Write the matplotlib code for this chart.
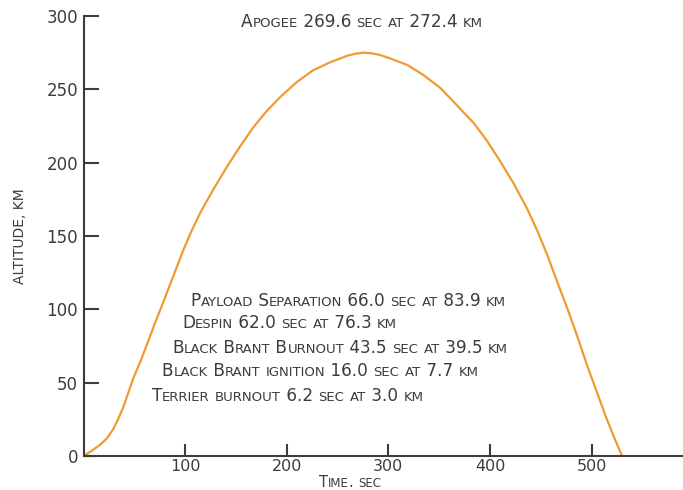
import numpy as np
import matplotlib
matplotlib.use('Agg')
import matplotlib.pyplot as plt
from matplotlib.offsetbox import TextArea, HPacker, AnnotationBbox

# trayectoria (tiempo en s, altitud en km)
t_sec = [0, 8, 16, 23, 29, 34, 39, 44, 49, 56, 63, 70, 78, 88, 98, 106, 115,
         128, 141, 154, 167, 180, 194, 210, 226, 243, 260, 268, 275, 283, 292,
         302, 319, 335, 351, 367, 384, 397, 410, 424, 437, 447, 457, 466, 476,
         486, 496, 505, 514, 522, 530]
alt_km = [0, 3.5, 7.5, 12, 18, 25, 33, 43, 53, 64.5, 77, 90, 104, 122, 140, 153, 166,
          182, 197, 211, 224, 235, 245, 255, 263, 268.5, 273, 274.3, 275, 274.6, 273.4,
          271, 266.5, 259.5, 251, 239.5, 227, 215, 201, 185, 168, 153, 136, 119, 101,
          81.5, 61, 44, 27, 13, 0]

# eventos
apogee_txt = 'Apogee 269.6 sec at 272.4 km'
apogee_pos = (274, 296)
event_txt = ['Payload Separation 66.0 sec at 83.9 km',
             'Despin 62.0 sec at 76.3 km',
             'Black Brant Burnout 43.5 sec at 39.5 km',
             'Black Brant ignition 16.0 sec at 7.7 km',
             'Terrier burnout 6.2 sec at 3.0 km']
event_t = [105, 97, 87, 77, 67]
event_alt = [106, 90.5, 73.5, 58, 41]

xticks = [100, 200, 300, 400, 500]
yticks = [0, 50, 100, 150, 200, 250, 300]

gris = '#3c3c3c'
naranja = '#EF9B33'


# versalitas: mayusculas grandes, minusculas como mayusculas chicas
def versalitas(ax, x, y, s, big=12.2, small=9.5, ha=0.0, coords='data'):
    runs = []
    for ch in s:
        low = ch.islower()
        if runs and runs[-1][1] == low:
            runs[-1][0] += ch
        else:
            runs.append([ch, low])
    hijos = [TextArea(r.upper(), textprops=dict(size=small if low else big,
                                                 color=gris, family='DejaVu Sans'))
             for r, low in runs]
    caja = HPacker(children=hijos, align='baseline', pad=0, sep=0)
    ab = AnnotationBbox(caja, (x, y), xycoords=coords, box_alignment=(ha, 0.5),
                        frameon=False, pad=0, annotation_clip=False)
    ax.add_artist(ab)


fig = plt.figure(figsize=(6.83, 4.9), dpi=100)
ax = fig.add_axes([0.1223, 0.0694, 0.8777, 0.898])

ax.plot(t_sec, alt_km, color=naranja, linewidth=1.6, solid_capstyle='round')

ax.set_xlim(0, 590)
ax.set_ylim(0, 300)
ax.set_xticks(xticks)
ax.set_yticks(yticks)
ax.spines['top'].set_visible(False)
ax.spines['right'].set_visible(False)
for s in ['left', 'bottom']:
    ax.spines[s].set_color(gris)
    ax.spines[s].set_linewidth(1.5)
ax.tick_params(axis='y', direction='in', length=11, width=1.5, color=gris,
               labelsize=12, labelcolor=gris, pad=4)
ax.tick_params(axis='x', direction='in', length=8.5, width=1.5, color=gris,
               labelsize=11.5, labelcolor=gris, pad=2)

ax.set_ylabel('ALTITUDE, KM', fontsize=10, color=gris, labelpad=14)
versalitas(ax, 0.445, -0.061, 'Time. sec', big=10.5, small=8.5, ha=0.5,
           coords='axes fraction')

versalitas(ax, apogee_pos[0], apogee_pos[1], apogee_txt, ha=0.5)
for txt, x, y in zip(event_txt, event_t, event_alt):
    versalitas(ax, x, y, txt)

plt.savefig('out.png', dpi=100)
